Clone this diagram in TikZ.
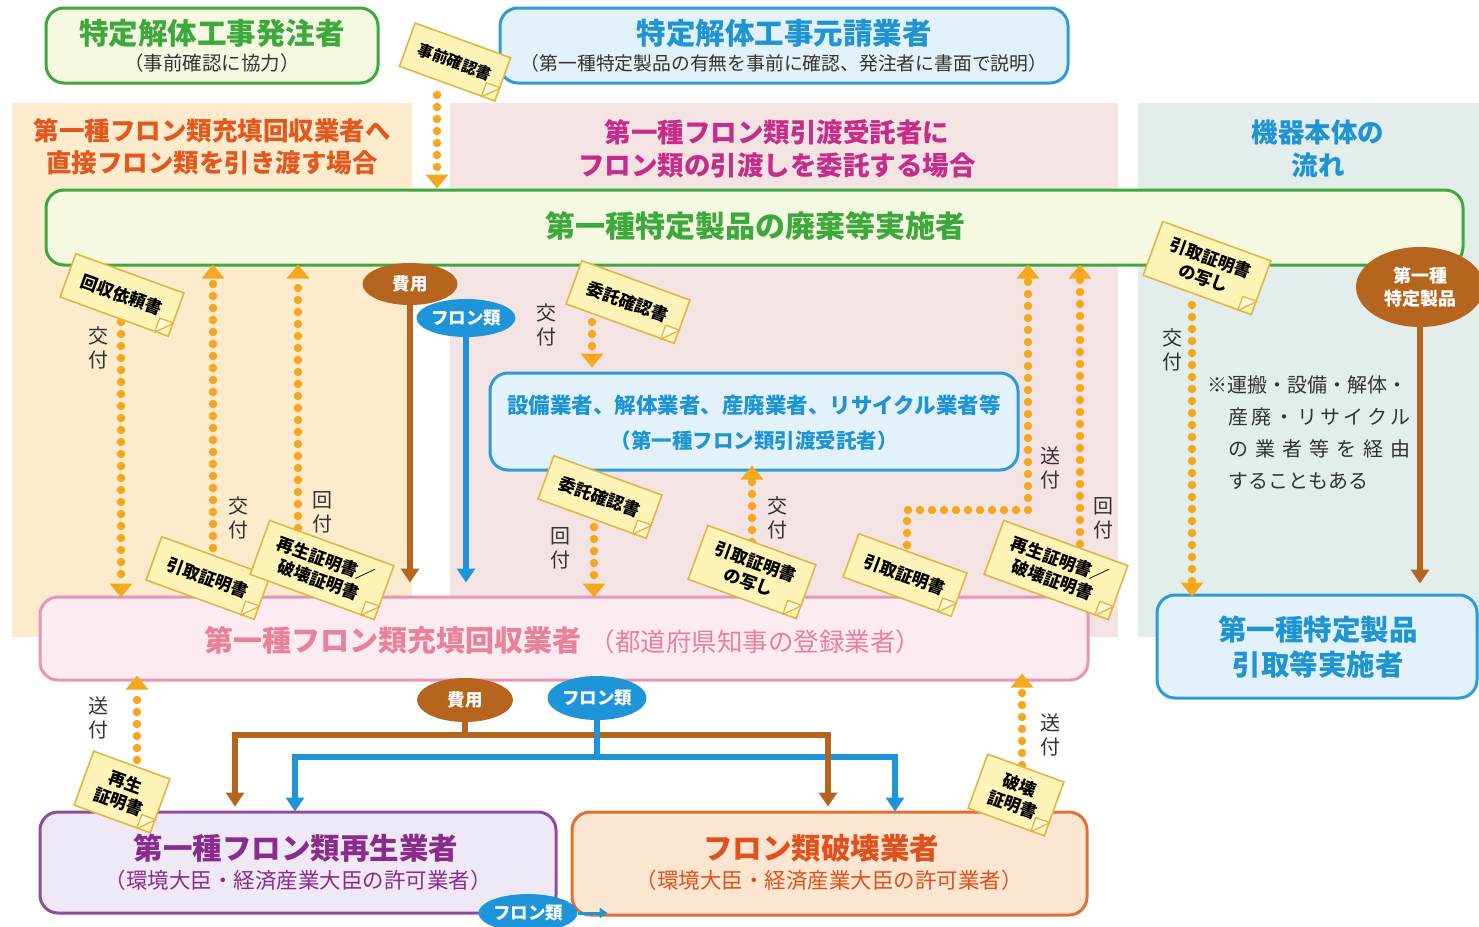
\documentclass[tikz,border=0pt]{standalone}
\usepackage{fontspec}
\setmainfont{Noto Sans CJK JP}
\usetikzlibrary{arrows.meta,shapes.geometric,calc}
\definecolor{gline}{HTML}{3DA83C}
\definecolor{gfill}{HTML}{F6F9E2}
\definecolor{bline}{HTML}{2E9BD6}
\definecolor{bfill}{HTML}{E3F2FA}
\definecolor{btext}{HTML}{1E94D3}
\definecolor{panelO}{HTML}{FCEBCC}
\definecolor{panelP}{HTML}{F4E3E3}
\definecolor{panelG}{HTML}{E3EDEC}
\definecolor{hdrO}{HTML}{E2581F}
\definecolor{hdrM}{HTML}{C62D8B}
\definecolor{rline}{HTML}{E995B5}
\definecolor{rfill}{HTML}{FCEBF1}
\definecolor{rtext}{HTML}{E8819A}
\definecolor{pline}{HTML}{8E4C9D}
\definecolor{pfill}{HTML}{EEE9F4}
\definecolor{ptext}{HTML}{8A2C8C}
\definecolor{oline}{HTML}{E0703A}
\definecolor{ofill}{HTML}{FCE5D1}
\definecolor{otext}{HTML}{E0521D}
\definecolor{brn}{HTML}{B5651D}
\definecolor{blu}{HTML}{1E95D9}
\definecolor{dotc}{HTML}{F5A81E}
\definecolor{nfill}{HTML}{FFF4B8}
\definecolor{nline}{HTML}{E2B547}
\definecolor{txt}{HTML}{333333}
\newcommand{\fsz}[1]{\fontsize{#1}{#1}\selectfont}
\newcommand{\notefold}[1]{%
  \coordinate (#1-a) at ($(#1.south east)!15pt!(#1.south west)$);
  \coordinate (#1-b) at ($(#1.south east)!15pt!(#1.north east)$);
  \filldraw[fill=white!45!nfill, draw=nline, line width=1.3pt, line join=round]
    (#1-a) -- (#1-b) -- ($(#1-a)+(#1-b)-(#1.south east)$) -- cycle;}
\begin{document}
\begin{tikzpicture}[x=1pt,y=-1pt,
  box/.style={draw, line width=3pt, rounded corners=18pt, inner sep=0pt},
  dotarr/.style={draw=dotc, line width=8.5pt, line cap=round, dash pattern=on 0pt off 12pt, -{Triangle[width=22pt,length=14pt]}},
  solarr/.style={line width=6pt, -{Triangle[width=18pt,length=14pt]}},
  oval/.style={ellipse, text=white, font=\fsz{17.5}\bfseries, inner sep=0pt, align=center},
  note/.style={fill=nfill, draw=nline, line width=1.6pt, font=\fontsize{17}{21}\selectfont\bfseries, text=black, align=center, inner xsep=15pt, inner ysep=10pt, rotate=-20, minimum height=46pt},
  vlab/.style={font=\fontsize{20}{24}\selectfont, text=txt, align=center},
  ttl/.style={font=\fsz{29.5}\bfseries},
]
\useasboundingbox (0,0) rectangle (1479,926);
\fill[white] (0,0) rectangle (1479,926);
% panels
\fill[panelO] (12,103) rectangle (412,637);
\fill[panelP] (450,103) rectangle (1118,637);
\fill[panelG] (1138,103) rectangle (1479,637);
% top boxes
\node[box, draw=gline, fill=gfill, minimum width=332pt, minimum height=75pt] (hatchu) at (212,45.5) {};
\node[ttl, text=gline] (hatchuT) at (212,33) {特定解体工事発注者};
\node[font=\fsz{19.5}, text=txt] (hatchuS) at (212,63) {（事前確認に協力）};
\node[box, draw=bline, fill=bfill, minimum width=568pt, minimum height=75pt] (moto) at (784,45.5) {};
\node[ttl, text=btext] (motoT) at (784,33) {特定解体工事元請業者};
\node[font=\fsz{18.8}, text=txt] (motoS) at (784,63) {（第一種特定製品の有無を事前に確認、発注者に書面で説明）};
% headers
\node[font=\fontsize{25.5}{32}\selectfont\bfseries, text=hdrO, align=center] (hL) at (212,147) {第一種フロン類充填回収業者へ\\直接フロン類を引き渡す場合};
\node[font=\fontsize{26.5}{33}\selectfont\bfseries, text=hdrM, align=center] (hM) at (777,149) {第一種フロン類引渡受託者に\\フロン類の引渡しを委託する場合};
\node[font=\fontsize{26.5}{33}\selectfont\bfseries, text=btext, align=center] (hR) at (1318,149) {機器本体の\\流れ};
% main box
\node[box, draw=gline, fill=gfill, minimum width=1417pt, minimum height=75pt] (main) at (754.5,227.5) {};
\node[font=\fsz{30}\bfseries, text=gline] (mainT) at (755,226) {第一種特定製品の廃棄等実施者};
% middle box
\node[box, draw=bline, fill=bfill, minimum width=528pt, minimum height=97pt] (itaku) at (754,421.5) {};
\node[font=\fsz{21.5}\bfseries, text=btext] (itakuT) at (754,405) {設備業者、解体業者、産廃業者、リサイクル業者等};
\node[font=\fsz{20.5}\bfseries, text=btext] (itakuS) at (754,441) {（第一種フロン類引渡受託者）};
% recovery box
\node[box, draw=rline, fill=rfill, minimum width=1048pt, minimum height=83pt] (rec) at (564,638.5) {};
\node[anchor=west, text=rtext] (recT) at (201,640) {{\fsz{29}\bfseries 第一種フロン類充填回収業者}\hspace{8pt}{\fsz{25.5}（都道府県知事の登録業者）}};
% right box
\node[box, draw=bline, fill=bfill, minimum width=320pt, minimum height=103pt] (hikitori) at (1317,646.5) {};
\node[font=\fontsize{28.5}{35}\selectfont\bfseries, text=btext, align=center] (hikitoriT) at (1318,647) {第一種特定製品\\引取等実施者};
% bottom boxes
\node[box, draw=pline, fill=pfill, minimum width=516pt, minimum height=101pt] (saisei) at (298,862.5) {};
\node[ttl, text=ptext] (saiseiT) at (296,848) {第一種フロン類再生業者};
\node[font=\fsz{21.5}, text=ptext] (saiseiS) at (298,880) {（環境大臣・経済産業大臣の許可業者）};
\node[box, draw=oline, fill=ofill, minimum width=515pt, minimum height=103pt] (hakai) at (829.5,863.5) {};
\node[ttl, text=otext] (hakaiT) at (821,848) {フロン類破壊業者};
\node[font=\fsz{21.5}, text=otext] (hakaiS) at (829,880) {（環境大臣・経済産業大臣の許可業者）};
% remark
\node[anchor=west, font=\fsz{20}, text=txt, inner sep=0pt] (rm1) at (1207,385) {※運搬・設備・解体・};
\node[anchor=west, font=\fsz{20}, text=txt, inner sep=0pt] (rm2) at (1228,417) {\makebox[182pt][s]{産\hfill 廃\hfill ・\hfill リ\hfill サ\hfill イ\hfill ク\hfill ル}};
\node[anchor=west, font=\fsz{20}, text=txt, inner sep=0pt] (rm3) at (1228,449) {\makebox[182pt][s]{の\hfill 業\hfill 者\hfill 等\hfill を\hfill 経\hfill 由}};
\node[anchor=west, font=\fsz{20}, text=txt, inner sep=0pt] (rm4) at (1228,481) {することもある};
% ovals
\node[oval, fill=brn, minimum width=95pt, minimum height=42pt] (hiyo1) at (410,284) {費用};
\node[oval, fill=blu, minimum width=92pt, minimum height=38pt] (fron1) at (466,318) {フロン類};
\node[oval, fill=brn, minimum width=128pt, minimum height=80pt, font=\fontsize{18}{23}\selectfont\bfseries] (seihin) at (1420,287) {第一種\\特定製品};
\node[oval, fill=brn, minimum width=96pt, minimum height=44pt] (hiyo2) at (465,700) {費用};
\node[oval, fill=blu, minimum width=98pt, minimum height=44pt] (fron2) at (597,698) {フロン類};
% coordinates
\coordinate (zs) at (437,95);
\coordinate (c1s) at (121,322);
\coordinate (c2s) at (213,548);
\coordinate (c3s) at (298,540);
\coordinate (c4s) at (592,322);
\coordinate (c5s) at (594,527);
\coordinate (c6s) at (752,542);
\coordinate (c7s) at (907,545);
\coordinate (c7m) at (907,510);
\coordinate (c8s) at (1080,556);
\coordinate (c9s) at (1192,305);
\coordinate (c10s) at (137,760);
\coordinate (c11s) at (1022,765);
\coordinate (bh) at (465,735);
\coordinate (bl) at (597,757);
% dotted arrows
\draw[dotarr] (zs) -- (zs |- main.north);
\draw[dotarr] (c1s) -- ($(c1s |- rec.north)+(0,2)$);
\draw[dotarr] (c2s) -- ($(c2s |- main.south)+(0,-2)$);
\draw[dotarr] (c3s) -- ($(c3s |- main.south)+(0,-2)$);
\draw[dotarr] (c4s) -- ($(c4s |- itaku.north)+(0,-4)$);
\draw[dotarr] (c5s) -- ($(c5s |- rec.north)+(0,2)$);
\draw[dotarr] (c6s) -- ($(c6s |- itaku.south)+(0,-6)$);
\draw[dotarr] (c7s) -- (c7m) -- ($(1028,0 |- c7m)$) -- ($(1028,0 |- main.south)+(0,-2)$);
\draw[dotarr] (c8s) -- ($(c8s |- main.south)+(0,-2)$);
\draw[dotarr] (c9s) -- ($(c9s |- hikitori.north)+(0,3)$);
\draw[dotarr] (c10s) -- ($(c10s |- rec.south)+(0,-6)$);
\draw[dotarr] (c11s) -- ($(c11s |- rec.south)+(0,-8)$);
% solid arrows
\draw[solarr, brn] (hiyo1.south) -- ($(hiyo1.south |- rec.north)+(0,-13)$);
\draw[solarr, blu] (fron1.south) -- ($(fron1.south |- rec.north)+(0,-13)$);
\draw[solarr, brn] (seihin.south) -- ($(seihin.south |- hikitori.north)+(0,-10)$);
\draw[line width=6pt, brn] (hiyo2.south) -- (bh);
\draw[solarr, brn] (bh) -| ($(235,0 |- saisei.north)+(0,-4)$);
\draw[line width=6pt, brn] (bh) -- (831,735);
\draw[line width=6pt, blu] (fron2.south) -- (bl);
\draw[solarr, blu] (bl) -| ($(295,0 |- saisei.north)+(0,1)$);
\draw[solarr, blu] (bl) -| ($(895,0 |- hakai.north)+(0,1)$);
\draw[solarr, brn] (828,732) -- ($(828,0 |- hakai.north)+(0,-4)$);
\node[oval, fill=blu, minimum width=96pt, minimum height=38pt] (fron3) at (528,913) {フロン類};
\draw[blu, line width=3pt, -{Triangle[width=10pt,length=8pt]}] (fron3.east) -- ($(fron3.east)+(30,0)$);
% notes
\node[note, font=\fsz{15.5}\bfseries, inner xsep=12pt] (nz) at (455,62) {事前確認書};
\notefold{nz}
\node[note] (n1) at (122,295) {回収依頼書};
\notefold{n1}
\node[note] (n2) at (208,578) {引取証明書};
\notefold{n2}
\node[note] (n3) at (322,570) {再生証明書／\\破壊証明書};
\notefold{n3}
\node[note] (n4) at (628,302) {委託確認書};
\notefold{n4}
\node[note] (n5) at (600,497) {委託確認書};
\notefold{n5}
\node[note] (n6) at (752,572) {引取証明書\\の写し};
\notefold{n6}
\node[note] (n7) at (905,575) {引取証明書};
\notefold{n7}
\node[note] (n8) at (1056,570) {再生証明書／\\破壊証明書};
\notefold{n8}
\node[note] (n9) at (1207,268) {引取証明書\\の写し};
\notefold{n9}
\node[note] (n10) at (122,792) {再生\\証明書};
\notefold{n10}
\node[note] (n11) at (1016,795) {破壊\\証明書};
\notefold{n11}
% labels
\node[vlab] (l1) at (98,348) {交\\付};
\node[vlab] (l2) at (238,518) {交\\付};
\node[vlab] (l3) at (322,512) {回\\付};
\node[vlab] (l4) at (546,325) {交\\付};
\node[vlab] (l5) at (560,548) {回\\付};
\node[vlab] (l6) at (777,518) {交\\付};
\node[vlab] (l7) at (1050,468) {送\\付};
\node[vlab] (l8) at (1103,518) {回\\付};
\node[vlab] (l9) at (1172,350) {交\\付};
\node[vlab] (l10) at (98,718) {送\\付};
\node[vlab] (l11) at (1050,735) {送\\付};
\end{tikzpicture}
\end{document}
